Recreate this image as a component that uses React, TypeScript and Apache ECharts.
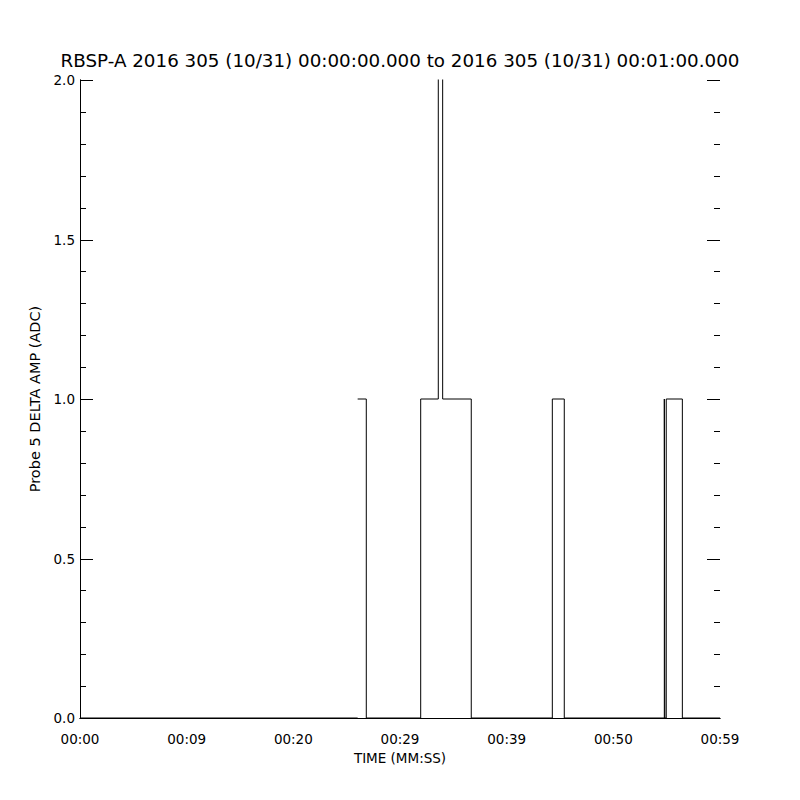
import React, { useEffect, useRef } from "react";
import * as echarts from "echarts";

const titleText = "RBSP-A 2016 305 (10/31) 00:00:00.000 to 2016 305 (10/31) 00:01:00.000";
const xAxisName = "TIME (MM:SS)";
const yAxisName = "Probe 5 DELTA AMP (ADC)";
const xTickLabels = ["00:00", "00:09", "00:20", "00:29", "00:39", "00:50", "00:59"];
const yTickValues = [0, 0.5, 1.0, 1.5, 2.0];
const yMinorPerMajor = 5;

// step transitions (seconds) and the value held from stepTimes[i] to stepTimes[i+1]
const stepTimes = [0, 26.03, 26.84, 31.94, 33.59, 34.0, 36.68, 44.28, 45.4, 54.78, 54.83, 54.96, 56.47, 60];
const stepValues = [0, 1, 0, 1, 3, 1, 0, 1, 0, 1, 0, 1, 0];
const breakBefore = [1];

const FONT = "DejaVu Sans";

export default function App() {
  const ref = useRef<HTMLDivElement>(null);
  useEffect(() => {
    if (!ref.current) return;
    const chart = echarts.init(ref.current, null, { renderer: "svg" });
    const pts: any[] = [];
    for (let i = 0; i < stepValues.length; i++) {
      if (breakBefore.includes(i)) pts.push([stepTimes[i], "-"]);
      pts.push([stepTimes[i], stepValues[i]]);
      pts.push([stepTimes[i + 1], stepValues[i]]);
    }
    const axisLine = { show: true, lineStyle: { color: "#000", width: 1 } };
    chart.setOption({
      animation: false,
      backgroundColor: "#fff",
      title: {
        text: titleText,
        left: "center",
        top: 53,
        padding: 0,
        textStyle: { fontFamily: FONT, fontSize: 18.3, lineHeight: 14, fontWeight: "normal", color: "#000" },
      },
      grid: { left: 80, right: 80, top: 80, bottom: 82, containLabel: false },
      xAxis: [
        {
          type: "value",
          min: 0,
          max: 60,
          interval: 10,
          position: "bottom",
          name: xAxisName,
          nameLocation: "middle",
          nameGap: 33,
          nameTextStyle: { fontFamily: FONT, fontSize: 13.5, color: "#000" },
          axisLine,
          axisTick: { show: false },
          splitLine: { show: false },
          axisLabel: {
            fontFamily: FONT,
            fontSize: 13.5,
            color: "#000",
            margin: 14,
            formatter: (v: number) => xTickLabels[Math.round(v / 10)] ?? "",
          },
        },
        {
          type: "value",
          min: 0,
          max: 60,
          interval: 10,
          position: "top",
          axisLine,
          axisTick: { show: false },
          axisLabel: { show: false },
          splitLine: { show: false },
        },
      ],
      yAxis: [
        {
          type: "value",
          min: 0,
          max: 2,
          interval: 0.5,
          position: "left",
          name: yAxisName,
          nameLocation: "middle",
          nameGap: 34,
          nameTextStyle: { fontFamily: FONT, fontSize: 14.5, color: "#000" },
          axisLine,
          axisTick: { show: false },
          minorTick: { show: false },
          splitLine: { show: false },
          axisLabel: {
            fontFamily: FONT,
            fontSize: 13.5,
            color: "#000",
            margin: 5,
            formatter: (v: number) =>
              yTickValues.includes(v) ? v.toFixed(1) : "",
          },
        },
        {
          type: "value",
          min: 0,
          max: 2,
          interval: 0.5,
          position: "right",
          axisLine,
          axisTick: { show: false },
          minorTick: { show: false },
          splitLine: { show: false },
          axisLabel: { show: false },
        },
      ],
      series: [
        {
          type: "line",
          data: pts,
          xAxisIndex: 0,
          yAxisIndex: 0,
          showSymbol: false,
          symbol: "none",
          connectNulls: false,
          clip: true,
          lineStyle: { color: "#000", width: 1 },
        },
      ],
    });

    // inward y-axis ticks on both sides, positioned through the axis scale
    const xL = chart.convertToPixel({ xAxisIndex: 0 }, 0) as number;
    const xR = chart.convertToPixel({ xAxisIndex: 0 }, 60) as number;
    const ticks: any[] = [];
    for (let k = 0; k < yTickValues.length; k++) {
      const v0 = yTickValues[k];
      const v1 = yTickValues[k + 1];
      const sub = v1 === undefined ? [v0] : Array.from({ length: yMinorPerMajor }, (_, j) => v0 + ((v1 - v0) * j) / yMinorPerMajor);
      sub.forEach((v, j) => {
        const len = j === 0 ? 13 : 6;
        const py = Math.round(chart.convertToPixel({ yAxisIndex: 0 }, v) as number) + 0.5;
        ticks.push({
          type: "line",
          silent: true,
          shape: { x1: xL, y1: py, x2: xL + len, y2: py },
          style: { stroke: "#000", lineWidth: 1 },
        });
        ticks.push({
          type: "line",
          silent: true,
          shape: { x1: xR, y1: py, x2: xR - len, y2: py },
          style: { stroke: "#000", lineWidth: 1 },
        });
      });
    }
    chart.setOption({ graphic: ticks });
    return () => chart.dispose();
  }, []);
  return (
    <div
      ref={ref}
      style={{ position: "fixed", left: 0, top: 0, width: 800, height: 800, background: "#fff" }}
    />
  );
}
